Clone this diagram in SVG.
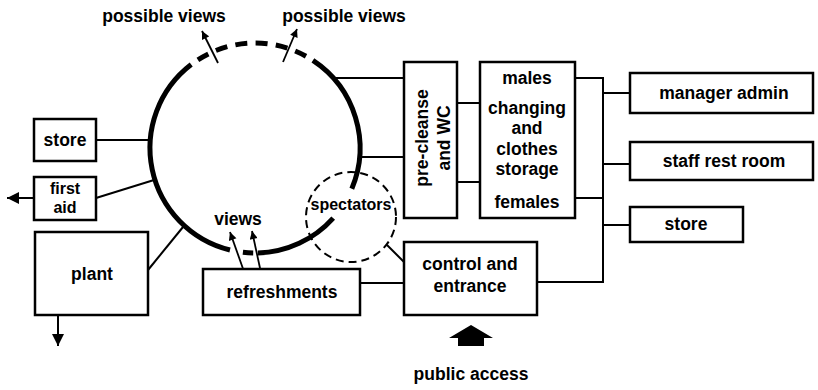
<svg xmlns="http://www.w3.org/2000/svg" width="818" height="390" viewBox="0 0 818 390">
<style>
text{font-family:"Liberation Sans",Arial,sans-serif;font-weight:bold;font-size:17.5px;fill:#000;text-anchor:middle}
.box{fill:#fff;stroke:#000;stroke-width:2.5}
.con{fill:none;stroke:#000;stroke-width:2}
.pool{fill:none;stroke:#000;stroke-width:5}
.arr{fill:none;stroke:#000;stroke-width:1.8}
.sm{font-size:16px}
</style>
<defs>
<marker id="ah" viewBox="0 0 10 10" refX="10" refY="5" markerWidth="10" markerHeight="8" markerUnits="userSpaceOnUse" orient="auto"><path d="M0,0 L10,5 L0,10 z" fill="#000"/></marker>
<marker id="big" viewBox="0 0 10 10" refX="10" refY="5" markerWidth="12" markerHeight="13" markerUnits="userSpaceOnUse" orient="auto"><path d="M0,0 L10,5 L0,10 z" fill="#000"/></marker>
</defs>
<rect width="818" height="390" fill="#fff"/>

<g id="connectors">
<line class="con" x1="96" y1="140" x2="151" y2="140"/>
<line class="con" x1="96" y1="198" x2="154" y2="180"/>
<line class="con" x1="148" y1="270" x2="183" y2="227"/>
<line class="con" x1="333" y1="78" x2="404" y2="78"/>
<line class="con" x1="359" y1="157" x2="404" y2="157"/>
<line class="con" x1="457" y1="103" x2="480" y2="103"/>
<line class="con" x1="457" y1="182" x2="480" y2="182"/>
<line class="con" x1="360" y1="283" x2="404" y2="283"/>
<line class="con" x1="387" y1="245" x2="404" y2="262"/>
<polyline class="con" points="575,78 603,78 603,282 537,282"/>
<line class="con" x1="575" y1="198" x2="603" y2="198"/>
<line class="con" x1="603" y1="93" x2="630" y2="93"/>
<line class="con" x1="603" y1="164" x2="630" y2="164"/>
<line class="con" x1="603" y1="225" x2="630" y2="225"/>
<line class="con" x1="33" y1="198" x2="7" y2="198" marker-end="url(#big)"/>
<line class="con" x1="58" y1="315" x2="58" y2="346" marker-end="url(#big)"/>
<line class="arr" x1="218" y1="63" x2="202" y2="31" marker-end="url(#ah)"/>
<line class="arr" x1="283" y1="62" x2="297" y2="29" marker-end="url(#ah)"/>
<line class="arr" x1="247" y1="280" x2="230" y2="232" marker-end="url(#ah)"/>
<line class="arr" x1="263" y1="282" x2="252" y2="231" marker-end="url(#ah)"/>
</g>

<g id="pool">
<path class="pool" d="M230,250 A105,105 0 0 1 191.2,64.6"/>
<path class="pool" d="M191.2,64.6 A105,105 0 0 1 312.9,60.4" stroke-dasharray="12 8.27" stroke-dashoffset="12"/>
<path class="pool" d="M312.9,60.4 A105,105 0 0 1 351.8,188.7"/>
<path class="pool" d="M333.2,218.1 A105,105 0 0 1 257.9,253"/>
<path class="pool" d="M253.2,253 A105,105 0 0 1 242.9,252.3"/>
</g>

<g id="spectators">
<circle cx="351" cy="217" r="45" fill="none" stroke="#000" stroke-width="2" stroke-dasharray="8 5"/>
<text class="sm" x="351" y="210">spectators</text>
</g>

<g id="labels">
<text x="164" y="22">possible views</text>
<text x="344" y="22">possible views</text>
<text x="238" y="225">views</text>
<text x="471" y="380">public access</text>
<polygon points="471,325 493,338 484,338 484,346 458,346 458,338 449,338" fill="#000"/>
</g>

<g id="store-left"><rect class="box" x="34" y="119" width="62" height="42"/><text x="65" y="146">store</text></g>
<g id="first-aid"><rect class="box" x="34" y="177" width="62" height="43"/><text class="sm" x="65" y="194">first</text><text class="sm" x="65" y="213">aid</text></g>
<g id="plant"><rect class="box" x="35" y="232" width="113" height="83"/><text x="92" y="280">plant</text></g>
<g id="refreshments"><rect class="box" x="203" y="269" width="157" height="46"/><text x="282" y="298">refreshments</text></g>
<g id="control"><rect class="box" x="404" y="242" width="133" height="73"/><text x="470" y="270">control and</text><text x="470" y="292">entrance</text></g>
<g id="pre-cleanse"><rect class="box" x="404" y="62" width="53" height="156"/>
<text transform="translate(428,138) rotate(-90)">pre-cleanse</text>
<text transform="translate(450,138) rotate(-90)">and WC</text></g>
<g id="changing"><rect class="box" x="480" y="62" width="95" height="156"/>
<text x="527" y="84">males</text>
<text x="527" y="114">changing</text>
<text x="527" y="134">and</text>
<text x="527" y="155">clothes</text>
<text x="527" y="175">storage</text>
<text x="527" y="208">females</text></g>
<g id="manager-admin"><rect class="box" x="630" y="73" width="183" height="40"/><text x="724" y="99">manager admin</text></g>
<g id="staff-rest-room"><rect class="box" x="630" y="142" width="183" height="38"/><text x="724" y="167">staff rest room</text></g>
<g id="store-right"><rect class="box" x="630" y="207" width="113" height="35"/><text x="686" y="230">store</text></g>
</svg>
